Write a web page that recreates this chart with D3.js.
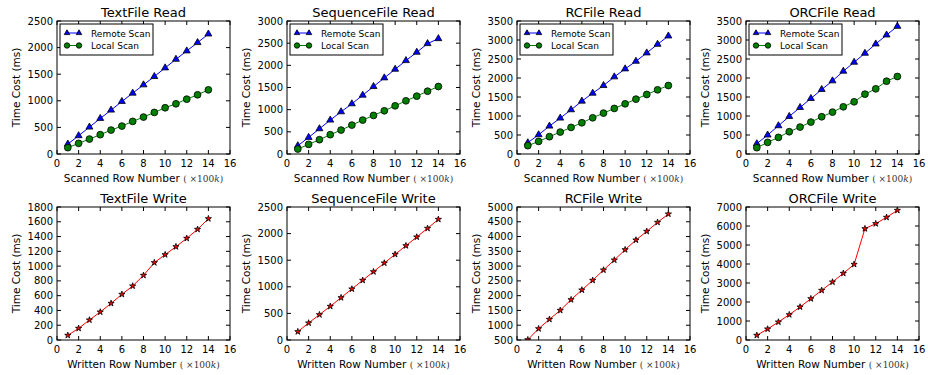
<!DOCTYPE html>
<html>
<head>
<meta charset="utf-8">
<script src="https://cdn.jsdelivr.net/npm/d3@7"></script>
<style>
  body { margin: 0; background: #fff; }
  text { font-family: "DejaVu Sans", sans-serif; fill: #000; }
</style>
</head>
<body>
<script>
// row numbers (x100k)
var rows = [1, 2, 3, 4, 5, 6, 7, 8, 9, 10, 11, 12, 13, 14];
var xTicks = [0, 2, 4, 6, 8, 10, 12, 14, 16];

// read times (ms)
var textRemote = [187, 344, 506, 669, 825, 988, 1144, 1300, 1456, 1619, 1781, 1938, 2094, 2256];
var textLocal = [119, 200, 281, 363, 450, 525, 613, 694, 781, 869, 944, 1031, 1113, 1206];
var seqRemote = [187, 375, 570, 765, 952, 1132, 1327, 1522, 1717, 1912, 2107, 2295, 2490, 2602];
var seqLocal = [112, 217, 322, 435, 540, 652, 765, 870, 975, 1087, 1200, 1305, 1417, 1522];
var rcRemote = [297, 507, 735, 945, 1164, 1391, 1601, 1802, 2030, 2240, 2441, 2660, 2887, 3106];
var rcLocal = [219, 332, 455, 577, 700, 822, 953, 1076, 1199, 1321, 1444, 1566, 1689, 1802];
var orcRemote = [271, 499, 744, 989, 1225, 1461, 1697, 1925, 2179, 2415, 2651, 2896, 3132, 3360];
var orcLocal = [166, 306, 437, 586, 709, 840, 980, 1102, 1242, 1374, 1575, 1715, 1916, 2039];

// write times (ms)
var textWrite = [63, 158, 271, 379, 496, 618, 731, 875, 1047, 1155, 1263, 1376, 1498, 1642];
var seqWrite = [157, 320, 476, 633, 796, 959, 1122, 1284, 1447, 1610, 1773, 1936, 2099, 2268];
var rcWrite = [510, 883, 1199, 1504, 1865, 2192, 2519, 2868, 3206, 3556, 3883, 4176, 4481, 4763];
var orcWrite = [246, 579, 947, 1333, 1737, 2175, 2614, 3053, 3509, 3982, 5860, 6123, 6456, 6825];

var titles = ["TextFile Read", "SequenceFile Read", "RCFile Read", "ORCFile Read",
              "TextFile Write", "SequenceFile Write", "RCFile Write", "ORCFile Write"];
var yDomains = [[0, 2500], [0, 3000], [0, 3500], [0, 3500],
                [0, 1800], [0, 2500], [500, 5000], [0, 7000]];
var yTickSteps = [500, 500, 500, 500, 200, 500, 500, 1000];
var legendNames = ["Remote Scan", "Local Scan"];

var width = 928, height = 375;
var svg = d3.select("body").append("svg")
    .attr("width", width)
    .attr("height", height);

var colLeft = [57, 287, 517, 746];
var rowTop = [21, 207];
var pw = 173, ph = 133;

var panels = [
  {series: [{v: textRemote, c: "#0000ff", m: "tri"}, {v: textLocal, c: "#008000", m: "circ"}]},
  {series: [{v: seqRemote, c: "#0000ff", m: "tri"}, {v: seqLocal, c: "#008000", m: "circ"}]},
  {series: [{v: rcRemote, c: "#0000ff", m: "tri"}, {v: rcLocal, c: "#008000", m: "circ"}]},
  {series: [{v: orcRemote, c: "#0000ff", m: "tri"}, {v: orcLocal, c: "#008000", m: "circ"}]},
  {series: [{v: textWrite, c: "#ff0000", m: "star"}]},
  {series: [{v: seqWrite, c: "#ff0000", m: "star"}]},
  {series: [{v: rcWrite, c: "#ff0000", m: "star"}]},
  {series: [{v: orcWrite, c: "#ff0000", m: "star"}]}
];

function marker(g, type, fill, k) {
  k = k || 1;
  if (type == "circ") {
    return g.append("circle").attr("r", 3.4 * k)
      .attr("fill", fill).attr("stroke", "#000").attr("stroke-width", 0.8);
  }
  var sym = type == "tri" ? d3.symbol().type(d3.symbolTriangle).size(21 * k * k)
                          : d3.symbol().type(d3.symbolStar).size(12 * k * k);
  return g.append("path").attr("d", sym())
    .attr("fill", fill).attr("stroke", "#000").attr("stroke-width", 0.8);
}

panels.forEach(function(p, i) {
  var col = i % 4, row = Math.floor(i / 4);
  var g = svg.append("g")
    .attr("transform", "translate(" + colLeft[col] + "," + rowTop[row] + ")");

  var x = d3.scaleLinear().domain([0, 16]).range([0, pw]);
  var y = d3.scaleLinear().domain(yDomains[i]).range([ph, 0]);
  var yTicks = d3.range(yDomains[i][0], yDomains[i][1] + 1, yTickSteps[i]);

  // clip so points below the axis are cut like matplotlib
  var clipId = "clip" + i;
  g.append("clipPath").attr("id", clipId)
    .append("rect").attr("x", -6).attr("y", -6).attr("width", pw + 12).attr("height", ph + 6);

  // ticks inside on all four sides
  var tickG = g.append("g");
  xTicks.forEach(function(t) {
    tickG.append("line").attr("x1", x(t)).attr("x2", x(t)).attr("y1", ph).attr("y2", ph - 4).attr("stroke", "#000");
    tickG.append("line").attr("x1", x(t)).attr("x2", x(t)).attr("y1", 0).attr("y2", 4).attr("stroke", "#000");
    g.append("text").attr("x", x(t)).attr("y", ph + 13)
      .attr("text-anchor", "middle").attr("font-size", 10).text(t);
  });
  yTicks.forEach(function(t) {
    tickG.append("line").attr("x1", 0).attr("x2", 4).attr("y1", y(t)).attr("y2", y(t)).attr("stroke", "#000");
    tickG.append("line").attr("x1", pw).attr("x2", pw - 4).attr("y1", y(t)).attr("y2", y(t)).attr("stroke", "#000");
    g.append("text").attr("x", -4).attr("y", y(t) + 3.5)
      .attr("text-anchor", "end").attr("font-size", 10).text(t);
  });

  var plot = g.append("g").attr("clip-path", "url(#" + clipId + ")");
  p.series.forEach(function(s) {
    var line = d3.line()
      .x(function(d, j) { return x(rows[j]); })
      .y(function(d) { return y(d); });
    plot.append("path").datum(s.v)
      .attr("d", line)
      .attr("fill", "none")
      .attr("stroke", s.c)
      .attr("stroke-width", 1);
    s.v.forEach(function(d, j) {
      marker(plot, s.m, s.c)
        .attr("transform", "translate(" + x(rows[j]) + "," + y(d) + ")");
    });
  });

  // frame
  g.append("rect").attr("width", pw).attr("height", ph)
    .attr("fill", "none").attr("stroke", "#000").attr("stroke-width", 1);

  // title
  g.append("text").attr("x", pw / 2).attr("y", -4)
    .attr("text-anchor", "middle").attr("font-size", 13).text(titles[i]);

  // y label
  g.append("text")
    .attr("transform", "translate(" + (-37) + "," + (ph / 2) + ") rotate(-90)")
    .attr("text-anchor", "middle").attr("font-size", 10.5).text("Time Cost (ms)");

  // x label
  var xl = g.append("text").attr("x", pw / 2).attr("y", ph + 28)
    .attr("text-anchor", "middle").attr("font-size", 10.5);
  xl.append("tspan").text(row == 0 ? "Scanned Row Number " : "Written Row Number ");
  var unit = xl.append("tspan").attr("font-family", "DejaVu Serif, serif")
    .attr("font-size", 9).attr("fill", "#333");
  unit.append("tspan").text("( \u00d7100");
  unit.append("tspan").attr("font-style", "italic").text("k");
  unit.append("tspan").text(")");

  // legend on read panels
  if (row == 0) {
    var lg = g.append("g").attr("transform", "translate(3,3)");
    lg.append("rect").attr("width", 93).attr("height", 31)
      .attr("fill", "#fff").attr("stroke", "#000").attr("stroke-width", 1);
    p.series.forEach(function(s, k) {
      var ly = 9 + k * 12.5;
      lg.append("line").attr("x1", 7).attr("x2", 19).attr("y1", ly).attr("y2", ly)
        .attr("stroke", s.c).attr("stroke-width", 1);
      marker(lg, s.m, s.c, 0.8).attr("transform", "translate(7," + ly + ")");
      marker(lg, s.m, s.c, 0.8).attr("transform", "translate(19," + ly + ")");
      lg.append("text").attr("x", 31).attr("y", ly + 3.5)
        .attr("font-size", 9).text(legendNames[k]);
    });
  }
});
</script>
</body>
</html>
